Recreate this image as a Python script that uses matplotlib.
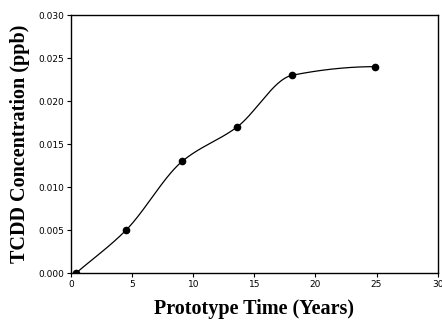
import numpy as np
import matplotlib
matplotlib.use("Agg")
import matplotlib.pyplot as plt

# data
years = [0.4, 4.5, 9.1, 13.6, 18.1, 24.9]
tcdd_ppb = [0.0, 0.005, 0.013, 0.017, 0.023, 0.024]


def monotone_spline(x, y, n=400):
    """Fritsch-Carlson monotone cubic through the points (smooth line)."""
    x = np.asarray(x, float)
    y = np.asarray(y, float)
    h = np.diff(x)
    d = np.diff(y) / h
    m = np.zeros_like(y)
    for i in range(1, len(x) - 1):
        if d[i - 1] * d[i] > 0:
            w1 = 2 * h[i] + h[i - 1]
            w2 = h[i] + 2 * h[i - 1]
            m[i] = (w1 + w2) / (w1 / d[i - 1] + w2 / d[i])
    m[0] = d[0]
    m[-1] = 0.0
    xs = np.linspace(x[0], x[-1], n)
    idx = np.clip(np.searchsorted(x, xs) - 1, 0, len(x) - 2)
    t = (xs - x[idx]) / h[idx]
    h00 = 2 * t ** 3 - 3 * t ** 2 + 1
    h10 = t ** 3 - 2 * t ** 2 + t
    h01 = -2 * t ** 3 + 3 * t ** 2
    h11 = t ** 3 - t ** 2
    ys = (h00 * y[idx] + h10 * h[idx] * m[idx]
          + h01 * y[idx + 1] + h11 * h[idx] * m[idx + 1])
    return xs, ys


fig = plt.figure(figsize=(4.42, 3.27), dpi=100)
ax = fig.add_axes([0.161, 0.165, 0.829, 0.789])

xs, ys = monotone_spline(years, tcdd_ppb)
ax.plot(xs, ys, color="black", lw=0.9)
ax.plot(years, tcdd_ppb, "o", color="black", ms=4.5)

ax.set_xlim(0, 30)
ax.set_ylim(0, 0.030)
ax.set_xticks(range(0, 31, 5))
ax.set_yticks(np.arange(0, 0.0301, 0.005))
ax.yaxis.set_major_formatter(matplotlib.ticker.FormatStrFormatter("%.3f"))
ax.tick_params(direction="out", length=3, width=0.8, labelsize=6.5, pad=2)

for s in ax.spines.values():
    s.set_linewidth(1.0)

ax.set_xlabel("Prototype Time (Years)", family="Liberation Serif",
              fontweight="bold", fontsize=14.5, labelpad=7)
ax.set_ylabel("TCDD Concentration (ppb)", family="Liberation Serif",
              fontweight="bold", fontsize=14.5, labelpad=6)

fig.savefig("out.png", dpi=100)
